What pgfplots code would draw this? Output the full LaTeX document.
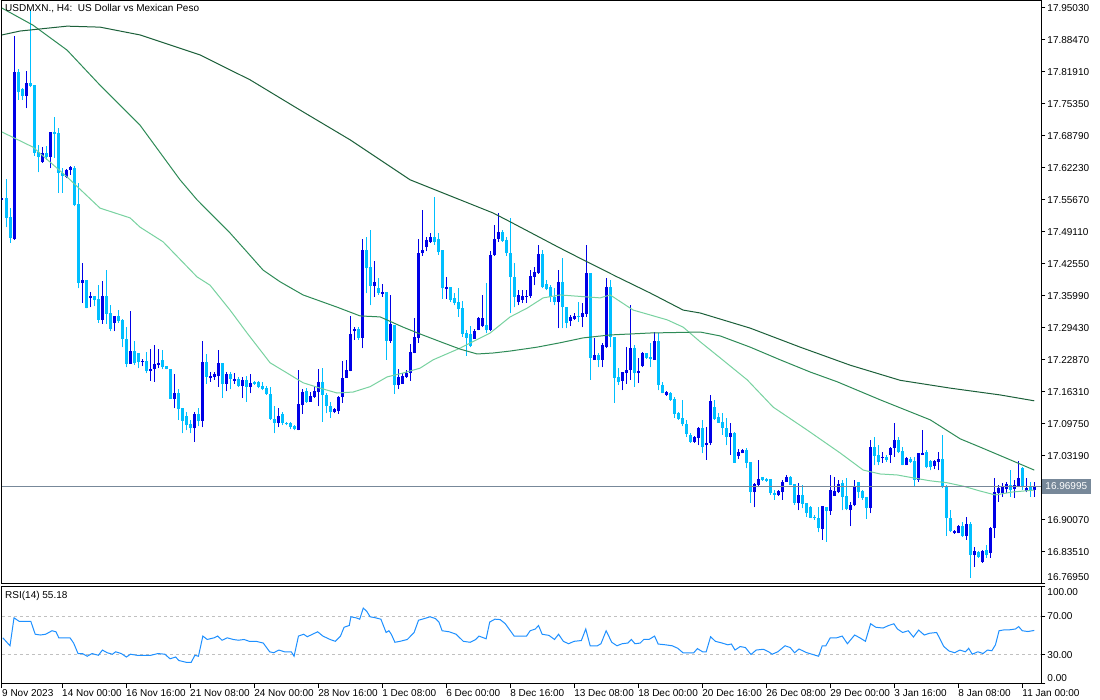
\documentclass[border=0pt]{standalone}
\usepackage{pgfplots}
\pgfplotsset{compat=1.18}
\usepackage{pgfplotstable}
\usepackage{fontspec}
\setmainfont{Liberation Sans}

\definecolor{upc}{RGB}{0,0,230}
\definecolor{dnc}{RGB}{0,191,255}
\definecolor{maf}{RGB}{120,210,160}
\definecolor{mam}{RGB}{46,139,87}
\definecolor{mas}{RGB}{28,96,58}
\definecolor{bidc}{RGB}{119,136,153}
\definecolor{rsic}{RGB}{30,144,255}
\definecolor{lvlc}{RGB}{192,192,192}

% USDMXN H4 candles: bar index, open, high, low, close
\pgfplotstableread{
i o h l c
0 17.557 17.563 17.555 17.561
1 17.561 17.600 17.501 17.520
2 17.522 17.540 17.469 17.479
3 17.477 17.893 17.475 17.819
4 17.819 17.825 17.762 17.778
5 17.784 17.786 17.762 17.770
6 17.770 17.821 17.745 17.797
7 17.797 17.946 17.788 17.790
8 17.792 17.792 17.647 17.653
9 17.655 17.669 17.614 17.645
10 17.635 17.665 17.633 17.653
11 17.653 17.667 17.639 17.645
12 17.645 17.696 17.622 17.696
13 17.696 17.727 17.643 17.692
14 17.694 17.704 17.571 17.612
15 17.612 17.622 17.571 17.606
16 17.604 17.620 17.602 17.618
17 17.618 17.626 17.608 17.624
18 17.622 17.626 17.544 17.546
19 17.548 17.592 17.376 17.387
20 17.387 17.428 17.346 17.393
21 17.393 17.393 17.335 17.335
22 17.356 17.368 17.337 17.360
23 17.360 17.360 17.339 17.352
24 17.354 17.382 17.305 17.311
25 17.311 17.391 17.303 17.360
26 17.360 17.413 17.303 17.323
27 17.325 17.341 17.288 17.292
28 17.305 17.319 17.288 17.319
29 17.319 17.331 17.305 17.309
30 17.311 17.313 17.255 17.272
31 17.272 17.296 17.214 17.221
32 17.221 17.329 17.221 17.247
33 17.247 17.268 17.219 17.223
34 17.243 17.243 17.212 17.225
35 17.225 17.231 17.216 17.227
36 17.227 17.245 17.202 17.206
37 17.206 17.251 17.186 17.210
38 17.210 17.259 17.184 17.221
39 17.219 17.251 17.212 17.223
40 17.229 17.249 17.210 17.214
41 17.216 17.216 17.210 17.210
42 17.210 17.210 17.149 17.149
43 17.149 17.200 17.130 17.161
44 17.161 17.169 17.106 17.128
45 17.130 17.130 17.079 17.104
46 17.114 17.122 17.085 17.095
47 17.097 17.106 17.079 17.089
48 17.089 17.122 17.061 17.118
49 17.118 17.130 17.093 17.104
50 17.104 17.268 17.091 17.225
51 17.225 17.241 17.180 17.194
52 17.192 17.204 17.184 17.196
53 17.194 17.204 17.188 17.200
54 17.196 17.249 17.174 17.223
55 17.223 17.223 17.151 17.180
56 17.180 17.204 17.165 17.200
57 17.200 17.204 17.169 17.190
58 17.186 17.202 17.180 17.190
59 17.190 17.194 17.174 17.176
60 17.176 17.194 17.151 17.188
61 17.188 17.196 17.143 17.174
62 17.174 17.200 17.161 17.182
63 17.184 17.186 17.178 17.180
64 17.184 17.186 17.171 17.174
65 17.176 17.184 17.167 17.169
66 17.171 17.176 17.157 17.159
67 17.159 17.174 17.106 17.108
68 17.108 17.134 17.079 17.100
69 17.100 17.130 17.091 17.114
70 17.118 17.122 17.095 17.100
71 17.100 17.102 17.095 17.097
72 17.100 17.102 17.087 17.091
73 17.093 17.095 17.085 17.087
74 17.085 17.208 17.085 17.138
75 17.136 17.169 17.118 17.163
76 17.165 17.171 17.141 17.143
77 17.143 17.163 17.143 17.155
78 17.153 17.174 17.151 17.165
79 17.163 17.210 17.134 17.184
80 17.184 17.212 17.102 17.157
81 17.157 17.161 17.120 17.134
82 17.134 17.143 17.110 17.122
83 17.122 17.130 17.120 17.128
84 17.124 17.155 17.118 17.153
85 17.153 17.227 17.141 17.192
86 17.192 17.229 17.192 17.208
87 17.206 17.319 17.206 17.282
88 17.288 17.296 17.270 17.292
89 17.292 17.296 17.270 17.274
90 17.274 17.477 17.253 17.454
91 17.454 17.481 17.366 17.417
92 17.419 17.495 17.341 17.380
93 17.380 17.432 17.358 17.389
94 17.376 17.397 17.362 17.366
95 17.364 17.384 17.358 17.368
96 17.368 17.368 17.229 17.268
97 17.268 17.362 17.264 17.303
98 17.301 17.301 17.159 17.178
99 17.178 17.210 17.169 17.194
100 17.180 17.202 17.180 17.196
101 17.194 17.208 17.192 17.202
102 17.202 17.261 17.186 17.245
103 17.243 17.315 17.243 17.276
104 17.274 17.477 17.264 17.448
105 17.448 17.536 17.442 17.454
106 17.460 17.481 17.452 17.475
107 17.471 17.489 17.469 17.481
108 17.481 17.563 17.465 17.471
109 17.477 17.489 17.444 17.450
110 17.454 17.454 17.354 17.376
111 17.374 17.399 17.354 17.378
112 17.378 17.378 17.348 17.352
113 17.356 17.366 17.341 17.346
114 17.348 17.376 17.317 17.333
115 17.335 17.350 17.276 17.282
116 17.284 17.290 17.237 17.274
117 17.282 17.298 17.255 17.257
118 17.272 17.292 17.272 17.288
119 17.290 17.317 17.290 17.315
120 17.298 17.362 17.296 17.315
121 17.301 17.386 17.284 17.290
122 17.290 17.452 17.288 17.444
123 17.444 17.505 17.442 17.477
124 17.477 17.530 17.471 17.491
125 17.491 17.495 17.471 17.473
126 17.475 17.481 17.442 17.448
127 17.448 17.520 17.325 17.399
128 17.399 17.428 17.337 17.358
129 17.348 17.372 17.341 17.362
130 17.352 17.372 17.346 17.360
131 17.358 17.372 17.346 17.360
132 17.360 17.413 17.356 17.401
133 17.399 17.419 17.382 17.409
134 17.407 17.464 17.405 17.446
135 17.446 17.454 17.376 17.378
136 17.384 17.393 17.372 17.374
137 17.378 17.382 17.348 17.358
138 17.358 17.376 17.341 17.348
139 17.348 17.413 17.294 17.389
140 17.389 17.438 17.294 17.337
141 17.337 17.337 17.294 17.305
142 17.309 17.321 17.298 17.317
143 17.313 17.325 17.311 17.319
144 17.319 17.348 17.307 17.317
145 17.317 17.346 17.296 17.325
146 17.323 17.464 17.317 17.407
147 17.407 17.407 17.188 17.233
148 17.229 17.274 17.229 17.239
149 17.239 17.243 17.214 17.229
150 17.229 17.264 17.214 17.259
151 17.255 17.397 17.253 17.378
152 17.378 17.393 17.255 17.276
153 17.276 17.276 17.141 17.192
154 17.194 17.212 17.178 17.184
155 17.186 17.204 17.167 17.204
156 17.202 17.255 17.180 17.208
157 17.208 17.341 17.188 17.253
158 17.253 17.259 17.174 17.202
159 17.202 17.233 17.182 17.206
160 17.216 17.245 17.214 17.243
161 17.243 17.243 17.231 17.233
162 17.235 17.264 17.214 17.231
163 17.229 17.286 17.229 17.268
164 17.268 17.284 17.167 17.178
165 17.178 17.184 17.161 17.161
166 17.157 17.165 17.155 17.163
167 17.161 17.163 17.145 17.147
168 17.149 17.153 17.110 17.118
169 17.120 17.122 17.106 17.108
170 17.110 17.147 17.093 17.097
171 17.097 17.106 17.071 17.077
172 17.075 17.079 17.059 17.061
173 17.061 17.073 17.059 17.071
174 17.069 17.091 17.054 17.089
175 17.089 17.106 17.038 17.050
176 17.054 17.091 17.024 17.059
177 17.059 17.157 17.054 17.145
178 17.132 17.147 17.106 17.108
179 17.112 17.120 17.100 17.100
180 17.102 17.120 17.075 17.089
181 17.089 17.110 17.054 17.071
182 17.071 17.100 17.034 17.079
183 17.079 17.081 17.018 17.018
184 17.032 17.046 17.026 17.040
185 17.038 17.046 17.038 17.044
186 17.044 17.048 17.007 17.018
187 17.020 17.020 16.936 16.958
188 16.958 16.977 16.927 16.975
189 16.972 17.024 16.968 16.985
190 16.989 16.989 16.981 16.983
191 16.985 16.987 16.979 16.981
192 16.985 16.985 16.952 16.956
193 16.956 16.962 16.942 16.952
194 16.952 16.962 16.950 16.960
195 16.958 16.983 16.942 16.979
196 16.979 16.993 16.979 16.989
197 16.989 16.991 16.972 16.972
198 16.975 16.975 16.932 16.936
199 16.936 16.977 16.921 16.952
200 16.952 16.972 16.925 16.934
201 16.936 16.936 16.907 16.915
202 16.927 16.929 16.905 16.905
203 16.907 16.911 16.901 16.905
204 16.905 16.927 16.876 16.884
205 16.882 16.929 16.860 16.929
206 16.927 16.927 16.856 16.919
207 16.919 16.993 16.911 16.962
208 16.950 16.989 16.950 16.960
209 16.958 16.983 16.956 16.975
210 16.977 16.983 16.921 16.948
211 16.950 16.987 16.921 16.923
212 16.921 16.937 16.888 16.931
213 16.931 16.983 16.929 16.968
214 16.979 16.979 16.946 16.958
215 16.960 16.962 16.942 16.946
216 16.948 16.948 16.903 16.925
217 16.925 17.065 16.915 17.050
218 17.050 17.071 17.013 17.032
219 17.034 17.054 17.013 17.020
220 17.028 17.040 17.018 17.030
221 17.030 17.034 17.020 17.024
222 17.034 17.050 17.018 17.048
223 17.048 17.100 17.030 17.065
224 17.065 17.071 17.038 17.040
225 17.042 17.050 17.013 17.013
226 17.013 17.030 17.013 17.028
227 17.026 17.030 17.018 17.020
228 17.022 17.030 16.970 16.983
229 16.983 17.038 16.979 17.038
230 17.034 17.085 17.034 17.038
231 17.040 17.044 17.007 17.009
232 17.022 17.024 17.003 17.009
233 17.011 17.024 17.005 17.022
234 17.020 17.040 17.003 17.026
235 17.026 17.075 16.966 16.968
236 16.968 16.972 16.868 16.905
237 16.905 16.921 16.876 16.878
238 16.874 16.880 16.872 16.878
239 16.874 16.890 16.874 16.888
240 16.888 16.897 16.866 16.868
241 16.868 16.907 16.860 16.892
242 16.892 16.897 16.782 16.829
243 16.829 16.846 16.805 16.837
244 16.835 16.837 16.823 16.825
245 16.815 16.839 16.813 16.837
246 16.839 16.850 16.823 16.829
247 16.833 16.886 16.823 16.884
248 16.884 16.987 16.864 16.958
249 16.956 16.972 16.938 16.966
250 16.956 16.977 16.948 16.968
251 16.964 16.979 16.956 16.975
252 16.972 17.003 16.948 16.962
253 16.964 16.983 16.946 16.972
254 16.970 17.022 16.968 16.987
255 17.007 17.009 16.962 16.970
256 16.960 16.987 16.958 16.966
257 16.968 16.979 16.948 16.960
258 16.962 16.979 16.948 16.970
}\candles

% RSI(14)
\pgfplotstableread{
i v
0.2 47.6
2.0 39.4
3.0 68.2
4.3 64.6
5.6 64.6
7.2 64.6
8.3 51.3
9.6 50.5
10.9 51.3
12.5 54.9
13.5 53.8
14.2 47.6
17.0 47.6
17.9 42.2
19.0 31.4
20.1 31.4
21.3 28.6
22.5 31.4
24.1 29.6
25.1 35.0
26.3 32.2
27.6 30.7
28.4 33.2
29.8 31.4
31.1 27.8
32.1 30.7
33.7 29.6
35.5 29.6
37.2 29.6
39.0 31.4
40.7 30.7
42.0 26.0
43.4 27.8
44.2 24.2
46.0 22.4
47.3 22.4
48.2 29.6
49.1 28.6
50.2 49.4
51.3 45.9
53.0 47.6
53.9 49.4
55.0 45.1
56.3 47.6
57.8 45.9
59.1 45.1
60.5 45.9
61.8 44.0
63.5 44.0
65.3 42.2
66.9 33.2
67.9 32.2
69.2 35.0
70.6 33.2
72.3 33.2
73.0 28.6
74.1 49.4
75.4 51.3
76.3 48.7
77.6 51.3
78.9 53.8
80.2 49.4
82.0 45.9
83.3 44.0
84.6 49.4
85.5 58.5
86.8 60.3
87.2 69.3
88.5 68.2
89.4 66.8
90.3 78.3
91.2 74.7
92.0 69.3
93.4 68.2
94.7 66.8
96.0 53.1
96.7 54.9
97.3 51.3
98.2 43.0
99.5 44.0
101.3 45.9
103.0 53.1
104.1 65.7
105.6 67.5
107.0 69.3
108.3 67.5
109.2 63.9
110.0 54.9
111.8 53.8
113.5 51.3
115.3 44.0
117.0 43.0
118.4 45.9
119.2 49.4
121.0 46.6
121.9 63.9
123.2 66.8
124.5 66.4
125.8 62.1
128.0 49.4
131.1 49.4
132.0 54.9
133.3 56.7
134.1 60.3
135.0 51.3
136.7 50.1
138.1 45.9
139.1 51.3
140.3 44.0
141.6 41.5
143.0 44.0
144.8 44.8
145.9 56.7
147.0 39.4
148.8 39.4
149.7 41.5
151.0 54.9
152.4 43.0
153.7 39.4
155.0 41.5
156.4 42.2
157.3 45.9
158.2 41.5
159.5 42.2
160.4 45.9
161.7 45.9
163.1 49.4
164.0 41.2
165.8 40.4
167.5 39.4
168.9 36.8
170.2 32.2
172.9 32.2
173.8 36.5
175.1 33.2
176.0 33.2
177.1 48.7
178.3 44.0
180.0 42.2
181.4 40.4
182.3 41.2
183.2 35.0
184.5 38.6
185.8 37.6
187.2 30.4
188.5 35.0
190.3 35.8
191.6 33.2
192.5 30.7
193.9 33.2
195.7 39.4
197.0 37.6
198.1 32.2
199.2 36.1
201.0 32.5
202.4 30.7
204.1 28.6
205.0 39.4
205.9 39.4
207.0 47.6
208.6 47.6
210.0 49.4
211.3 41.5
213.1 50.5
214.4 47.6
215.8 44.0
217.1 62.1
218.4 58.5
220.2 57.7
221.6 60.3
222.9 62.1
223.8 56.7
225.1 53.1
226.5 54.9
227.8 48.4
229.1 55.6
230.5 50.5
231.8 52.3
233.6 53.1
235.4 38.6
236.7 34.0
238.1 32.2
239.4 35.0
240.8 33.2
241.6 36.8
242.5 30.7
243.9 33.2
245.2 31.4
246.3 35.0
247.4 34.3
248.3 40.4
249.2 54.9
250.6 55.9
251.9 55.9
253.3 56.7
254.1 59.2
255.0 54.9
256.4 54.1
258.0 55.2
}\rsi

\pgfplotsset{
  mtframe/.style={
    scale only axis, anchor=south west, clip mode=individual,
    xmin=0, xmax=259.75,
    axis line style={line width=1pt},
    tick style={black, line width=1pt},
    tick align=outside, major tick length=4pt,
    ytick pos=right, yticklabel pos=right,
    yticklabel style={anchor=west, inner sep=0pt, xshift=2pt},
    scaled y ticks=false,
  },
  % candle parts drawn as vertical error bars, no visible marks
  cpart/.style 2 args={forget plot, only marks, mark=*, mark size=0pt,
    mark options={draw=none, fill=none},
    error bars/.cd, y dir=plus, y explicit, error mark=none,
    error bar style={draw=#1, line width=#2}},
}

\begin{document}
\begin{tikzpicture}[x=1pt, y=1pt, font=\fontsize{10}{12}\selectfont]
\fill[white] (0,0) rectangle (1100,700);
\useasboundingbox (0,0) rectangle (1100,700);

\begin{axis}[mtframe,
  at={(2pt,116pt)}, width=1039pt, height=583pt,
  ymin=16.7695, ymax=17.9646,
  xtick=\empty,
  ytick={16.7695,16.8351,16.9007,16.9663,17.0319,17.0975,17.1631,17.2287,17.2943,17.3599,17.4255,17.4911,17.5567,17.6223,17.6879,17.7535,17.8191,17.8847,17.9503},
  yticklabels={,16.83510,16.90070,,17.03190,17.09750,17.16310,17.22870,17.29430,17.35990,17.42550,17.49110,17.55670,17.62230,17.68790,17.75350,17.81910,17.88470,17.95030},
]
% candles: up (dark blue) and down (light blue)
\addplot[restrict expr to domain={\thisrow{c}-\thisrow{o}}{0:1}, cpart={upc}{1pt}]
  table[x=i, y=l, y error plus expr=\thisrow{h}-\thisrow{l}] {\candles};
\addplot[restrict expr to domain={\thisrow{c}-\thisrow{o}}{0:1}, cpart={upc}{3pt}]
  table[x=i, y=o, y error plus expr={max(\thisrow{c}-\thisrow{o},0.0015)}] {\candles};
\addplot[restrict expr to domain={\thisrow{o}-\thisrow{c}}{0.00001:1}, cpart={dnc}{1pt}]
  table[x=i, y=l, y error plus expr=\thisrow{h}-\thisrow{l}] {\candles};
\addplot[restrict expr to domain={\thisrow{o}-\thisrow{c}}{0.00001:1}, cpart={dnc}{3pt}]
  table[x=i, y=c, y error plus expr={max(\thisrow{o}-\thisrow{c},0.0015)}] {\candles};

% moving averages
\addplot[maf, line width=1pt] coordinates {
(0,17.696) (7.75,17.665) (16.25,17.604) (24.5,17.540) (32,17.520) (34.5,17.501)
(40.25,17.471) (48.75,17.399) (52,17.382) (57,17.331) (61.25,17.284) (67,17.223)
(71.25,17.202) (75.25,17.182) (79.5,17.171) (83.75,17.161) (87.75,17.163) (92,17.174)
(96.25,17.194) (100.25,17.202) (104.5,17.212) (107.75,17.229) (114.5,17.253) (122,17.284)
(127,17.317) (131.25,17.335) (135.25,17.356) (139.5,17.362) (149.5,17.356) (152,17.362)
(157.75,17.331) (166.25,17.311) (170.25,17.296) (174.5,17.266) (179.5,17.233) (186.25,17.188)
(192.75,17.132) (201.25,17.085) (209.5,17.038) (215.25,17.003) (219.5,16.995) (223.75,16.993)
(227.75,16.987) (232,16.981) (236.25,16.977) (240.25,16.970) (244.5,16.960) (248.25,16.952)
(252.5,16.958) (258,16.962)};
\addplot[mam, line width=1pt] coordinates {
(0,17.950) (7.75,17.915) (16.25,17.864) (24.5,17.792) (34.5,17.710) (44.5,17.598)
(48.75,17.557) (57,17.489) (61.25,17.450) (65.25,17.413) (69.5,17.389) (75.25,17.362)
(83.75,17.337) (89.5,17.319) (94.5,17.317) (100.25,17.296) (104.5,17.282) (110.25,17.264)
(114.5,17.251) (118.75,17.241) (122.75,17.243) (127,17.247) (133.75,17.255) (139.5,17.264)
(145.25,17.274) (152,17.280) (162,17.284) (174.5,17.286) (179.5,17.278) (187,17.255)
(194.5,17.229) (202,17.204) (208.75,17.184) (219.5,17.147) (232,17.106) (239.5,17.067)
(244.5,17.050) (252,17.024) (258,17.003)};
\addplot[mas, line width=1pt] coordinates {
(0,17.895) (4.5,17.903) (16.25,17.913) (24.5,17.911) (34.5,17.895) (49.5,17.854)
(62,17.803) (74.5,17.741) (87,17.680) (102,17.598) (122.75,17.530) (127,17.512)
(139.5,17.458) (145.25,17.434) (153.75,17.399) (162,17.366) (170.25,17.331) (174.5,17.325)
(187,17.294) (199.5,17.255) (212,17.218) (224.5,17.187) (237,17.171) (249.5,17.157)
(258,17.145)};

% bid line
\addplot[bidc, line width=1pt] coordinates {(0,16.96995) (259.75,16.96995)};
\node[anchor=west, fill=bidc, text=white, inner xsep=3.5pt, inner ysep=0pt,
  minimum height=15pt] at (axis cs:259.75,16.96995) [xshift=0.5pt] {16.96995};
\node[anchor=west, inner sep=0pt] at (rel axis cs:1,0) [xshift=6pt, yshift=7pt] {16.76950};
\end{axis}

\begin{axis}[mtframe,
  at={(2pt,16pt)}, width=1039pt, height=97pt,
  ymin=0, ymax=100,
  ytick={0,30,70,100}, yticklabels={,30.00,70.00,},
  xtick pos=bottom,
  xtick={0,15,31,47,63,79,95,111,127,143,159,175,191,207,223,239,255},
  xticklabels={9 Nov 2023,14 Nov 00:00,16 Nov 16:00,21 Nov 08:00,24 Nov 00:00,28 Nov 16:00,1 Dec 08:00,6 Dec 00:00,8 Dec 16:00,13 Dec 08:00,18 Dec 00:00,20 Dec 16:00,26 Dec 08:00,29 Dec 00:00,3 Jan 16:00,8 Jan 08:00,11 Jan 00:00},
  xticklabel style={anchor=north west, inner sep=0pt, yshift=-1pt},
]
\addplot[lvlc, line width=1pt, dash pattern=on 3pt off 3pt] coordinates {(0,30) (259.75,30)};
\addplot[lvlc, line width=1pt, dash pattern=on 3pt off 3pt] coordinates {(0,70) (259.75,70)};
\addplot[rsic, line width=1pt] table[x=i, y=v] {\rsi};
\node[anchor=west, inner sep=0pt] at (rel axis cs:1,1) [xshift=6pt, yshift=-5pt] {100.00};
\node[anchor=west, inner sep=0pt] at (rel axis cs:1,0) [xshift=6pt, yshift=6pt] {0.00};
\end{axis}

\node[anchor=west, inner sep=0pt] at (5,691) {USDMXN., H4:\ \ US Dollar vs Mexican Peso};
\node[anchor=west, inner sep=0pt] at (5,104) {RSI(14) 55.18};
\end{tikzpicture}
\end{document}
